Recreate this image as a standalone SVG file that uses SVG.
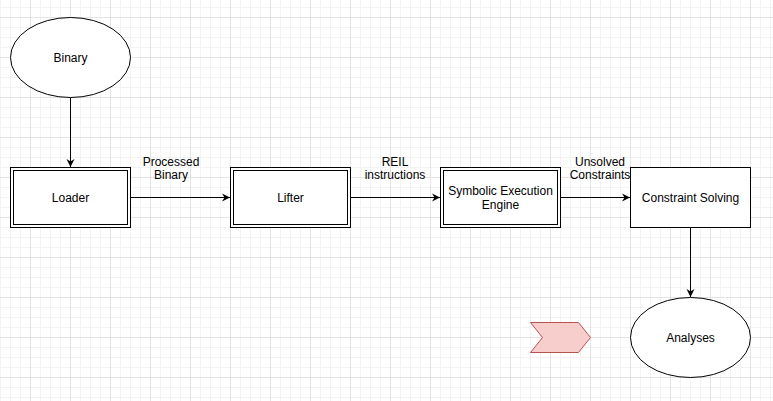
<svg xmlns="http://www.w3.org/2000/svg" width="773" height="401" viewBox="0 0 773 401">
  <style>
    .shape { fill: #ffffff; stroke: #000000; stroke-width: 1; }
    .lbl { font-family: "Liberation Sans", Arial, Helvetica, sans-serif; font-size: 12px; fill: #000000; text-anchor: middle; }
    .edge { fill: none; stroke: #000000; stroke-width: 1; marker-end: url(#arr); }
  </style>
  <defs>
    <pattern id="minor" patternUnits="userSpaceOnUse" x="0" y="-3" width="10" height="10">
      <path d="M0.5,0 V10 M0,0.5 H10" stroke="#f3f3f3" stroke-width="1" fill="none"/>
    </pattern>
    <pattern id="major" patternUnits="userSpaceOnUse" x="-10" y="-23" width="40" height="40">
      <path d="M0.5,0 V40 M0,0.5 H40" stroke="#e4e4e4" stroke-width="1" fill="none"/>
    </pattern>
    <marker id="arr" markerUnits="userSpaceOnUse" viewBox="-9 -5 10 10" refX="0" refY="0" markerWidth="10" markerHeight="10" orient="auto">
      <path d="M0,0 L-8,-4 L-5.5,0 L-8,4 Z" fill="#000000"/>
    </marker>
  </defs>
  <rect x="0" y="0" width="773" height="401" fill="#ffffff"/>
  <rect x="0" y="0" width="773" height="401" fill="url(#minor)"/>
  <rect x="0" y="0" width="773" height="401" fill="url(#major)"/>

  <g id="edges">
    <path class="edge" d="M70.5,97 V167"/>
    <path class="edge" d="M130.5,197.5 H230"/>
    <path class="edge" d="M350.5,197.5 H440"/>
    <path class="edge" d="M560.5,197.5 H630"/>
    <path class="edge" d="M690.5,227.5 V297"/>
    <text class="lbl" x="171" y="165.5">Processed</text>
    <text class="lbl" x="171" y="178.5">Binary</text>
    <text class="lbl" x="395" y="165.5">REIL</text>
    <text class="lbl" x="395" y="178.5">instructions</text>
    <text class="lbl" x="600" y="165.5">Unsolved</text>
    <text class="lbl" x="600" y="178.5">Constraints</text>
  </g>

  <g id="binary">
    <ellipse class="shape" cx="70.5" cy="57.5" rx="60" ry="40"/>
    <text class="lbl" x="70.5" y="61.5">Binary</text>
  </g>

  <g id="loader">
    <rect class="shape" x="10.5" y="167.5" width="120" height="60"/>
    <rect class="shape" x="13.5" y="170.5" width="114" height="54"/>
    <text class="lbl" x="70.5" y="201.5">Loader</text>
  </g>

  <g id="lifter">
    <rect class="shape" x="230.5" y="167.5" width="120" height="60"/>
    <rect class="shape" x="233.5" y="170.5" width="114" height="54"/>
    <text class="lbl" x="290.5" y="201.5">Lifter</text>
  </g>

  <g id="symbolic">
    <rect class="shape" x="440.5" y="167.5" width="120" height="60"/>
    <rect class="shape" x="443.5" y="170.5" width="114" height="54"/>
    <text class="lbl" x="500.5" y="195">Symbolic Execution</text>
    <text class="lbl" x="500.5" y="208.5">Engine</text>
  </g>

  <g id="solver">
    <rect class="shape" x="630.5" y="167.5" width="120" height="60"/>
    <text class="lbl" x="690.5" y="201.5">Constraint Solving</text>
  </g>

  <g id="analyses">
    <ellipse class="shape" cx="690.5" cy="337.5" rx="60" ry="40"/>
    <text class="lbl" x="690.5" y="341.5">Analyses</text>
  </g>

  <g id="chevron">
    <polygon points="530.5,322.5 578.5,322.5 590.5,337.5 578.5,352.5 530.5,352.5 542.5,337.5" fill="#f8cecc" stroke="#b85450" stroke-width="1"/>
  </g>
</svg>
